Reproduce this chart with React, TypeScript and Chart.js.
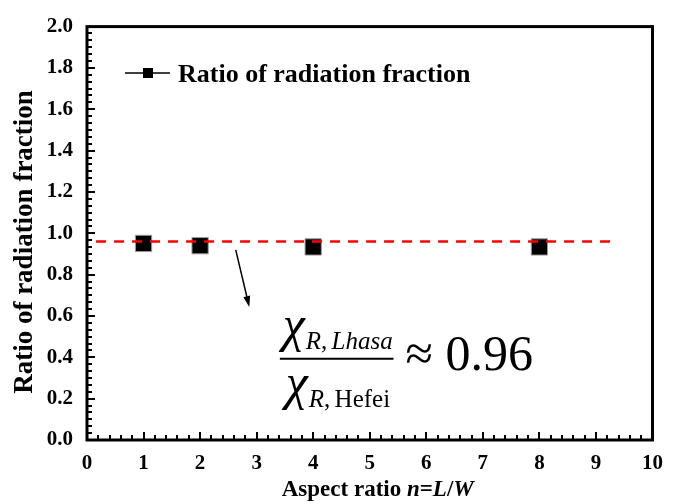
import React, { useEffect, useRef } from "react";
import { Chart, registerables } from "chart.js";

Chart.register(...registerables);

// ---- data ----
const aspectRatios = [1, 2, 4, 8];
const radiationRatios = [0.951, 0.94, 0.934, 0.934];
const meanRatio = 0.96;
const meanLineX = [0.16, 9.34];
const xTickValues = [0, 1, 2, 3, 4, 5, 6, 7, 8, 9, 10];
const yTickLabels = ["0.0", "0.2", "0.4", "0.6", "0.8", "1.0", "1.2", "1.4", "1.6", "1.8", "2.0"];
const seriesName = "Ratio of radiation fraction";
const xTitleParts = [
  { t: "Aspect ratio ", italic: false },
  { t: "n", italic: true },
  { t: "=", italic: false },
  { t: "L", italic: true },
  { t: "/", italic: false },
  { t: "W", italic: true },
];
const yTitle = "Ratio of radiation fraction";
// arrow from / to (data coords)
const arrowFrom = { x: 2.63, y: 0.92 };
const arrowTo = { x: 2.87, y: 0.643 };
// fraction bar anchor (data coords)
const fracLeft = { x: 3.41, y: 0.393 };
const fracRight = { x: 5.42, y: 0.393 };
const approxText = "≈ 0.96";

const SERIF = "'Liberation Serif', 'Times New Roman', serif";

const customDraw = {
  id: "customDraw",
  afterDraw(chart: any) {
    const { ctx, chartArea: ca } = chart;
    const xs = chart.scales.x;
    const ys = chart.scales.y;
    ctx.save();

    // frame
    ctx.strokeStyle = "#000";
    ctx.lineWidth = 3;
    ctx.strokeRect(ca.left, ca.top, ca.right - ca.left, ca.bottom - ca.top);

    // inward ticks
    ctx.lineWidth = 2;
    ctx.beginPath();
    for (let i = 0; i <= 60; i++) {
      const v = (i * 0.2) / 6;
      const py = Math.round(ys.getPixelForValue(v));
      const len = i % 6 === 0 ? 8 : 5;
      ctx.moveTo(ca.left, py);
      ctx.lineTo(ca.left + len, py);
    }
    for (let i = 0; i <= 50; i++) {
      const v = i * 0.2;
      const px = Math.round(xs.getPixelForValue(v));
      const len = i % 5 === 0 ? 8 : 5;
      ctx.moveTo(px, ca.bottom);
      ctx.lineTo(px, ca.bottom - len);
    }
    ctx.stroke();

    // legend
    const ly = 73;
    ctx.lineWidth = 1.5;
    ctx.beginPath();
    ctx.moveTo(125, ly);
    ctx.lineTo(170, ly);
    ctx.stroke();
    ctx.fillStyle = "#000";
    ctx.fillRect(148 - 5, ly - 5, 10, 10);
    ctx.font = `bold 26px ${SERIF}`;
    ctx.textBaseline = "middle";
    ctx.textAlign = "left";
    ctx.fillText(seriesName, 178, ly + 2);

    // y title
    ctx.save();
    ctx.translate(25, 242);
    ctx.rotate(-Math.PI / 2);
    ctx.font = `bold 27px ${SERIF}`;
    ctx.textAlign = "center";
    ctx.textBaseline = "middle";
    ctx.fillText(yTitle, 0, 0);
    ctx.restore();

    // x title (mixed italic)
    ctx.textBaseline = "alphabetic";
    ctx.textAlign = "left";
    const fonts = xTitleParts.map((p) => (p.italic ? `italic bold 23px ${SERIF}` : `bold 23px ${SERIF}`));
    let total = 0;
    xTitleParts.forEach((p, i) => {
      ctx.font = fonts[i];
      total += ctx.measureText(p.t).width;
    });
    let cx = (ca.left + ca.right) / 2 - total / 2 + 8;
    xTitleParts.forEach((p, i) => {
      ctx.font = fonts[i];
      ctx.fillText(p.t, cx, 496);
      cx += ctx.measureText(p.t).width;
    });

    // arrow
    const ax0 = xs.getPixelForValue(arrowFrom.x);
    const ay0 = ys.getPixelForValue(arrowFrom.y);
    const ax1 = xs.getPixelForValue(arrowTo.x);
    const ay1 = ys.getPixelForValue(arrowTo.y);
    const ang = Math.atan2(ay1 - ay0, ax1 - ax0);
    const hl = 11;
    const hw = 3.5;
    ctx.lineWidth = 1.5;
    ctx.beginPath();
    ctx.moveTo(ax0, ay0);
    ctx.lineTo(ax1 - Math.cos(ang) * hl * 0.8, ay1 - Math.sin(ang) * hl * 0.8);
    ctx.stroke();
    ctx.beginPath();
    ctx.moveTo(ax1, ay1);
    ctx.lineTo(ax1 - Math.cos(ang) * hl - Math.sin(ang) * hw, ay1 - Math.sin(ang) * hl + Math.cos(ang) * hw);
    ctx.lineTo(ax1 - Math.cos(ang) * hl + Math.sin(ang) * hw, ay1 - Math.sin(ang) * hl - Math.cos(ang) * hw);
    ctx.closePath();
    ctx.fill();

    // fraction
    const fx0 = xs.getPixelForValue(fracLeft.x);
    const fx1 = xs.getPixelForValue(fracRight.x);
    const fy = ys.getPixelForValue(fracLeft.y);
    ctx.lineWidth = 2;
    ctx.beginPath();
    ctx.moveTo(fx0, fy);
    ctx.lineTo(fx1, fy);
    ctx.stroke();

    const drawChiTerm = (x0: number, base: number, sub: string, subItalic: boolean) => {
      let x = x0;
      ctx.font = `italic 50px ${SERIF}`;
      ctx.fillText("χ", x, base);
      x += ctx.measureText("χ").width + 1;
      ctx.font = `italic 25px ${SERIF}`;
      ctx.fillText("R", x, base + 8);
      x += ctx.measureText("R").width;
      ctx.font = `25px ${SERIF}`;
      ctx.fillText(",", x, base + 8);
      x += ctx.measureText(", ").width - 2;
      ctx.font = subItalic ? `italic 25px ${SERIF}` : `25px ${SERIF}`;
      ctx.fillText(sub, x, base + 8);
    };
    ctx.textAlign = "left";
    ctx.textBaseline = "alphabetic";
    drawChiTerm(fx0 + 3, fy - 18, "Lhasa", true);
    drawChiTerm(fx0 + 6, fy + 40, "Hefei", false);

    ctx.font = `50px ${SERIF}`;
    ctx.fillText(approxText, fx1 + 12, fy + 11);

    ctx.restore();
  },
};

export default function App() {
  const canvasRef = useRef<HTMLCanvasElement | null>(null);

  useEffect(() => {
    document.body.style.margin = "0";
    const canvas = canvasRef.current;
    if (!canvas) return;
    const chart = new Chart(canvas, {
      type: "scatter",
      data: {
        datasets: [
          {
            type: "line",
            label: "mean",
            data: meanLineX.map((x) => ({ x, y: meanRatio })),
            borderColor: "#ff0000",
            borderWidth: 2.5,
            borderDash: [10, 8],
            pointRadius: 0,
            fill: false,
          } as any,
          {
            label: seriesName,
            data: aspectRatios.map((x, i) => ({ x, y: radiationRatios[i] })),
            pointStyle: "rect",
            pointRadius: 11.5,
            pointHoverRadius: 11.5,
            backgroundColor: "#000",
            borderColor: "#9a9a9a",
            borderWidth: 1,
            showLine: false,
          },
        ],
      },
      options: {
        responsive: false,
        animation: false,
        layout: { padding: { top: 23, right: 2, left: 0, bottom: 0 } },
        plugins: {
          legend: { display: false },
          tooltip: { enabled: false },
        },
        scales: {
          x: {
            type: "linear",
            min: 0,
            max: 10,
            afterFit: (s: any) => {
              s.height = 64;
            },
            afterBuildTicks: (s: any) => {
              s.ticks = xTickValues.map((v) => ({ value: v }));
            },
            grid: { display: false, drawTicks: false },
            border: { display: false },
            ticks: {
              color: "#000",
              padding: 11,
              font: { family: SERIF, size: 21, weight: "bold" },
              callback: (v: any) => String(v),
            },
            title: { display: false },
          },
          y: {
            type: "linear",
            min: 0,
            max: 2,
            afterFit: (s: any) => {
              s.width = 87;
            },
            afterBuildTicks: (s: any) => {
              s.ticks = yTickLabels.map((_, i) => ({ value: i * 0.2 }));
            },
            grid: { display: false, drawTicks: false },
            border: { display: false },
            ticks: {
              color: "#000",
              padding: 14,
              font: { family: SERIF, size: 21, weight: "bold" },
              callback: (_v: any, i: number) => yTickLabels[i],
            },
            title: { display: false },
          },
        },
      },
      plugins: [customDraw],
    });
    return () => chart.destroy();
  }, []);

  return (
    <div style={{ width: 674, height: 504, background: "#fff" }}>
      <canvas ref={canvasRef} width={674} height={504} />
    </div>
  );
}
